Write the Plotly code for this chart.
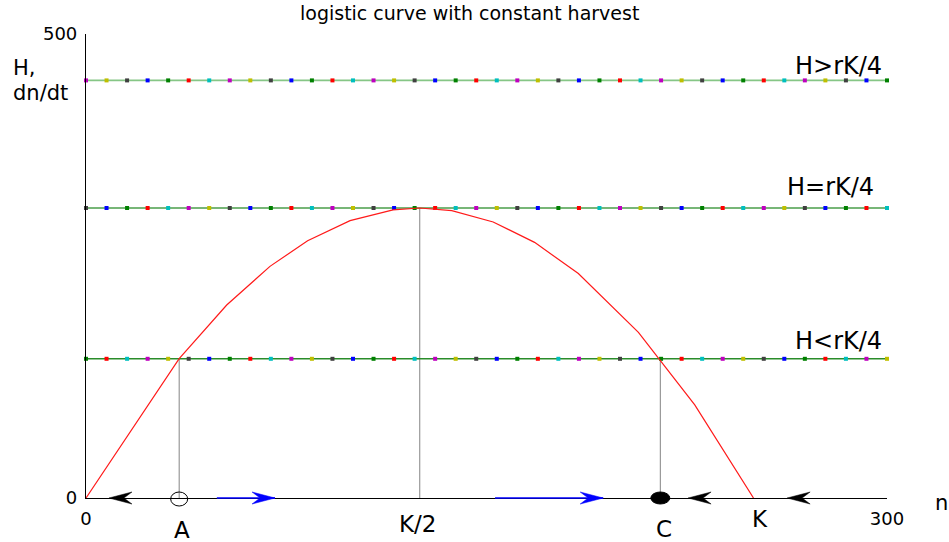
import numpy as np
import plotly.graph_objects as go

# dn/dt of the logistic model (r = 5, K = 250), sampled along n
curve_n = [0, 34.9, 52.7, 68.9, 83, 98.9, 115, 125, 137, 152.5, 168, 184.4, 206.9, 228, 250]
curve_dndt = [0, 150.2, 208, 249.6, 277.2, 298.9, 310.5, 312.5, 309.6, 297.4, 275.5, 241.9, 178.4, 100.3, 0]

# constant harvest levels
harvest_H = [150, 312.5, 450]
harvest_labels = ["H<rK/4", "H=rK/4", "H>rK/4"]
harvest_n = np.linspace(0, 300, 40)  # sampling grid of each harvest line

# equilibria for H < rK/4 and the maximum point
eq_A, eq_C, half_K, K = 34.9, 215.1, 125, 250
guide_n = [eq_A, half_K, eq_C]
guide_top = [150, 312.5, 150]
point_labels = ["A", "K/2", "C", "K"]
point_n = [eq_A, half_K, eq_C, K]

# flow direction on the n axis
left_tips = [8.6, 225.5, 262.6]
right_tails = [49, 153.2]
right_tips = [70.8, 193.7]

x_ticks = [0, 300]
y_ticks = [0, 500]

color_order = ["#0000ff", "#008000", "#ff0000", "#00bfbf", "#bf00bf", "#bfbf00", "#404040"]
line_colors = ["#2a8c2a", "#4a9e4a", "#86c686"]

FONT = "DejaVu Sans"
W, H = 949, 542
L, R, T, B = 86, 62, 34, 44
PW, PH = W - L - R, H - T - B


def px(xp, yp):
    """pixel position on the page -> paper coordinates"""
    return (xp - L) / PW, (H - B - yp) / PH


fig = go.Figure()

# vertical guides down to the n axis
for n0, top in zip(guide_n, guide_top):
    fig.add_trace(go.Scatter(x=[n0, n0], y=[0, top], mode="lines",
                             line=dict(color="#858585", width=1), hoverinfo="skip"))

# harvest lines with the cycling dot markers
k = 1
for h, lc in zip(harvest_H, line_colors):
    fig.add_trace(go.Scatter(x=harvest_n, y=[h] * len(harvest_n), mode="lines",
                             line=dict(color=lc, width=1.6), hoverinfo="skip"))
    cols = [color_order[(k + i) % 7] for i in range(len(harvest_n))]
    k += len(harvest_n)
    fig.add_trace(go.Scatter(x=harvest_n, y=[h] * len(harvest_n), mode="markers",
                             marker=dict(symbol="square", size=4, color=cols, line=dict(width=0)),
                             cliponaxis=False, hoverinfo="skip"))

# logistic curve
fig.add_trace(go.Scatter(x=curve_n, y=curve_dndt, mode="lines",
                         line=dict(color="#ff1a1a", width=1.2), hoverinfo="skip"))

shapes = []
# blue shafts
for t0, t1 in zip(right_tails, right_tips):
    shapes.append(dict(type="line", xref="x", yref="paper", x0=t0, x1=t1, y0=0, y1=0,
                       line=dict(color="#0000ff", width=1.6)))


def head(tip, d, color):
    path = f"M0,0 L{-d*23},6 L{-d*15},0 L{-d*23},-6 Z"
    return dict(type="path", xref="x", yref="paper", xsizemode="pixel", ysizemode="pixel",
                xanchor=tip, yanchor=0, path=path, fillcolor=color, line=dict(color=color, width=0.5))


for t in left_tips:
    shapes.append(head(t, -1, "black"))
for t in right_tips:
    shapes.append(head(t, 1, "#0000ff"))

# unstable (open) and stable (filled) equilibria
shapes.append(dict(type="circle", xref="x", yref="paper", xsizemode="pixel", ysizemode="pixel",
                   xanchor=eq_A, yanchor=0, x0=-8.5, x1=8.5, y0=-8, y1=6,
                   line=dict(color="black", width=1), fillcolor="rgba(0,0,0,0)"))
shapes.append(dict(type="circle", xref="x", yref="paper", xsizemode="pixel", ysizemode="pixel",
                   xanchor=eq_C, yanchor=0, x0=-9.5, x1=9.5, y0=-6, y1=6,
                   line=dict(color="black", width=1), fillcolor="black"))

annotations = []
for lab, h, dx, dy in zip(harvest_labels, harvest_H, [282, 279, 282], [18, 21, 14]):
    annotations.append(dict(x=dx, y=h, xref="x", yref="y", text=lab, showarrow=False,
                            yshift=dy, font=dict(family=FONT, size=24, color="black")))
for lab, n0, dx, dy in zip(point_labels, point_n, [3, -2, 4, 6], [-32, -26, -31, -21]):
    annotations.append(dict(x=n0, y=0, xref="x", yref="y", text=lab, showarrow=False,
                            xshift=dx, yshift=dy, font=dict(family=FONT, size=23, color="black")))

for txt, (xp, yp), size, anchor in [
    ("logistic curve with constant harvest", (469, 13), 19, "center"),
    ("H,", (11, 68), 21, "left"),
    ("dn/dt", (11, 92.5), 21, "left"),
    ("n", (941, 503), 21, "center"),
]:
    xpp, ypp = px(xp, yp)
    annotations.append(dict(x=xpp, y=ypp, xref="paper", yref="paper", text=txt, showarrow=False,
                            xanchor=anchor, yanchor="middle",
                            font=dict(family=FONT, size=size, color="black")))

axis_common = dict(showgrid=False, zeroline=False, showline=True, linecolor="black", linewidth=1.2,
                   ticks="inside", ticklen=8, tickcolor="black",
                   tickfont=dict(family=FONT, size=18, color="black"))

fig.update_layout(
    width=W, height=H, margin=dict(l=L, r=R, t=T, b=B),
    paper_bgcolor="white", plot_bgcolor="white", showlegend=False,
    xaxis=dict(range=[0, 300], tickvals=x_ticks, ticklabelstandoff=4, **axis_common),
    yaxis=dict(range=[0, 500], tickvals=y_ticks, ticklabelstandoff=4, **axis_common),
    shapes=shapes, annotations=annotations,
)

fig.write_html("out.html")
